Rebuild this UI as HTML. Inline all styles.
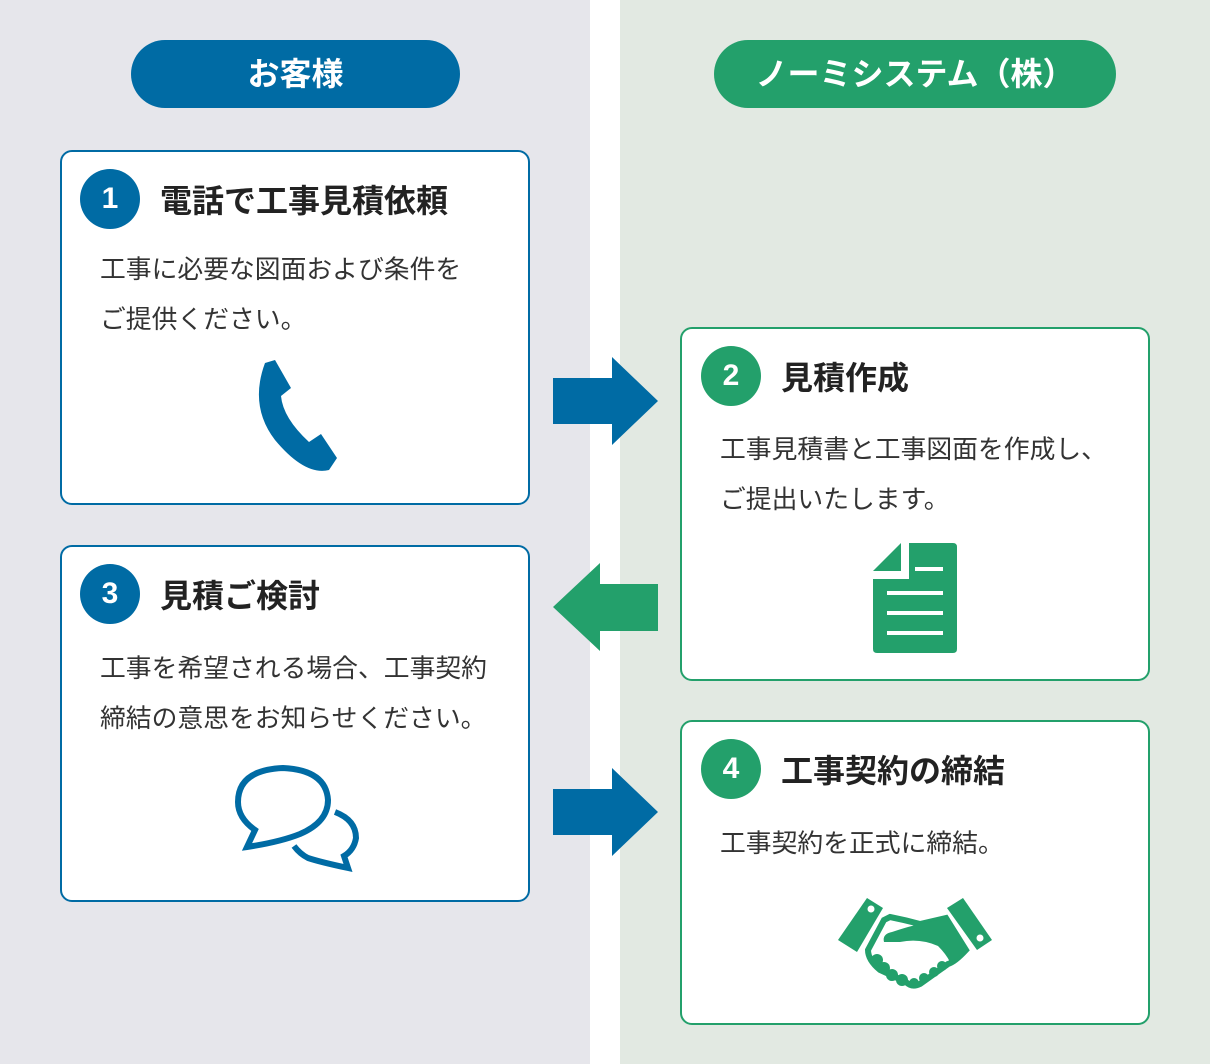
<!DOCTYPE html>
<html><head><meta charset="utf-8"><style>
body{margin:0;width:1210px;height:1064px;position:relative;overflow:hidden;font-family:"Liberation Sans","Noto Sans CJK JP",sans-serif;background:#fff}
.bgL{position:absolute;left:0;top:0;width:590px;height:1064px;background:#e6e6eb}
.bgR{position:absolute;left:620px;top:0;width:590px;height:1064px;background:#e2e9e2}
.pill{position:absolute;height:68px;border-radius:34px;color:#fff;font-size:32px;font-weight:bold;text-align:center;line-height:68px}
.box{position:absolute;background:#fff;border:2px solid;border-radius:12px;box-sizing:border-box}
.num{position:absolute;width:60px;height:60px;border-radius:30px;color:#fff;font-size:30px;font-weight:bold;text-align:center;line-height:60px}
.ttl{position:absolute;font-size:32px;font-weight:bold;color:#222;white-space:nowrap}
.txt{position:absolute;font-size:25.8px;color:#333;line-height:50px;white-space:nowrap}
.b{background:#006ba4;border-color:#006ba4}.g{background:#23a06b;border-color:#23a06b}
</style></head><body>
<div class="bgL"></div><div class="bgR"></div>
<div class="pill b" style="left:131px;top:40px;width:329px">お客様</div>
<div class="pill g" style="left:714px;top:40px;width:402px">ノーミシステム（株）</div>

<div class="box" style="left:60px;top:150px;width:470px;height:355px;border-color:#006ba4"></div>
<div class="num b" style="left:80px;top:169px">1</div>
<div class="ttl" style="left:160px;top:176px">電話で工事見積依頼</div>
<div class="txt" style="left:100px;top:245px">工事に必要な図面および条件を<br>ご提供ください。</div>
<svg style="position:absolute;left:245px;top:358px" width="100" height="120" viewBox="0 0 100 120"><path d="M20 5 L30 2 L46 30 L36 38 Q38 60 64 84 L76 76 L92 100 L84 112 Q60 118 30 82 Q4 48 20 5Z" fill="#006ba4"/></svg>

<div class="box" style="left:60px;top:545px;width:470px;height:357px;border-color:#006ba4"></div>
<div class="num b" style="left:80px;top:564px">3</div>
<div class="ttl" style="left:160px;top:571px">見積ご検討</div>
<div class="txt" style="left:100px;top:644px">工事を希望される場合、工事契約<br>締結の意思をお知らせください。</div>
<svg style="position:absolute;left:220px;top:750px" width="150" height="130" viewBox="0 0 150 130"><g fill="none" stroke="#006ba4" stroke-width="6" stroke-linejoin="miter"><path d="M35 80 Q18 68 18 52 Q18 20 63 18 Q106 20 108 50 Q108 72 80 84 Q60 92 27 97 Z"/><path d="M115 62 Q136 70 136 88 Q134 100 124 106 L128 118 Q100 112 88 108 Q80 104 74 96"/></g></svg>

<div class="box" style="left:680px;top:327px;width:470px;height:354px;border-color:#23a06b"></div>
<div class="num g" style="left:701px;top:346px">2</div>
<div class="ttl" style="left:781px;top:353px">見積作成</div>
<div class="txt" style="left:720px;top:425px">工事見積書と工事図面を作成し、<br>ご提出いたします。</div>
<svg style="position:absolute;left:873px;top:543px" width="84" height="110" viewBox="0 0 84 110"><path d="M32 0 H80 Q84 0 84 4 V106 Q84 110 80 110 H4 Q0 110 0 106 V32 L6 32 H32 Z" fill="#23a06b"/><path d="M0 28 L28 0 V28Z" fill="#23a06b"/><path d="M34 0 V34 H0" fill="none" stroke="#fff" stroke-width="4"/><g stroke="#fff" stroke-width="4"><line x1="42" y1="26" x2="70" y2="26"/><line x1="14" y1="50" x2="70" y2="50"/><line x1="14" y1="70" x2="70" y2="70"/><line x1="14" y1="90" x2="70" y2="90"/></g></svg>

<div class="box" style="left:680px;top:720px;width:470px;height:305px;border-color:#23a06b"></div>
<div class="num g" style="left:701px;top:739px">4</div>
<div class="ttl" style="left:781px;top:746px">工事契約の締結</div>
<div class="txt" style="left:720px;top:819px">工事契約を正式に締結。</div>
<svg style="position:absolute;left:820px;top:880px" width="190" height="120" viewBox="0 0 190 120"><g fill="#23a06b"><path d="M18 60 L47 18 L63 28 L37 72Z"/><path d="M127 28 L143 18 L172 60 L157 70Z"/>
<path d="M64 40 L70 37 Q85 40 100 44 L126 38 L146 70 Q135 82 128 84 L100 104 Q92 108 86 102 L60 90 Q48 80 48 70 Z" fill="none" stroke="#23a06b" stroke-width="6"/>
<path d="M64 62 Q62 54 72 52 Q90 46 100 44 L126 38 L146 70 Q138 78 130 82 Q126 74 118 66 Q100 58 80 62 Z"/>
<circle cx="57" cy="80" r="6"/><circle cx="64" cy="88" r="6"/><circle cx="72" cy="95" r="6"/><circle cx="82" cy="100" r="6"/><circle cx="94" cy="103" r="5"/><circle cx="104" cy="98" r="5"/><circle cx="114" cy="92" r="5"/><circle cx="122" cy="86" r="5"/></g>
<circle cx="51" cy="29" r="3.5" fill="#fff"/><circle cx="160" cy="58" r="3.5" fill="#fff"/></svg>

<svg style="position:absolute;left:553px;top:357px" width="106" height="90"><path d="M0 21 H59 V0 L105 44 L59 88 V67 H0Z" fill="#006ba4"/></svg>
<svg style="position:absolute;left:553px;top:563px" width="106" height="90"><path d="M105 21 H47 V0 L0 44 L47 88 V68 H105Z" fill="#23a06b"/></svg>
<svg style="position:absolute;left:553px;top:768px" width="106" height="90"><path d="M0 21 H59 V0 L105 44 L59 88 V67 H0Z" fill="#006ba4"/></svg>
</body></html>
